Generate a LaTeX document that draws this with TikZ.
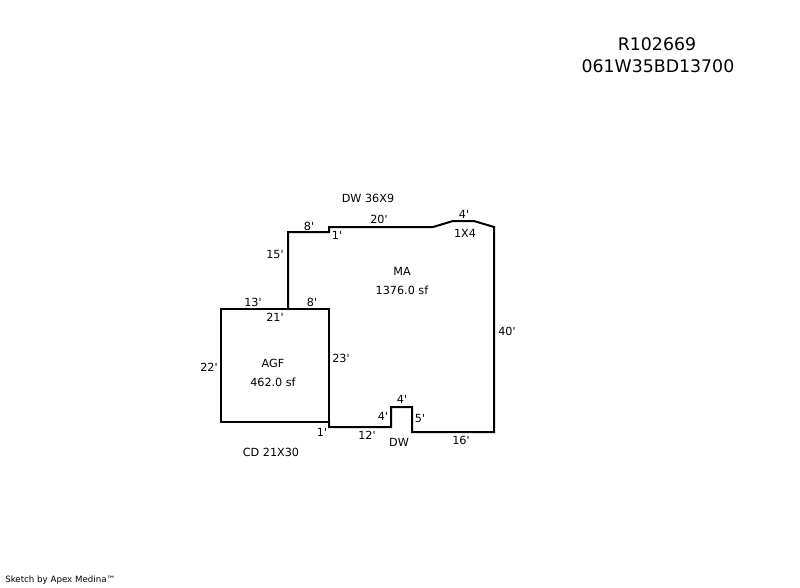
\documentclass[tikz,border=0pt]{standalone}
\usepackage{fontspec}
\newfontfamily\sketchfont{DejaVu Sans}
\usetikzlibrary{calc}
\tikzstyle{wall} = [
    line width = 1.5pt,
    line cap = rect,
    line join = miter,
    draw = black,
]
\tikzstyle{dim} = [
    font = \sketchfont\fontsize{8.4}{10}\selectfont,
    inner sep = 0pt,
    text = black,
]
\tikzstyle{title} = [
    font = \sketchfont\fontsize{13}{15}\selectfont,
    inner sep = 0pt,
    text = black,
]
\begin{document}
\begin{tikzpicture} [x = 0.75pt, y = -0.75pt]
    \useasboundingbox (0,0) rectangle (800,587);

    \draw[wall] (288,309) -- (288,232) -- (329,232) -- (329,227) -- (433,227) -- (453,221) -- (474,221) -- (494,227) -- (494,432) -- (412,432) -- (412,407) -- (391,407) -- (391,427) -- (329,427) -- (329,422);
    \draw[wall] (221,309) rectangle (329,422);

    \node (parcel) [title] at (657,44) {R102669};
    \node (account) [title] at (658,66) {061W35BD13700};

    \node (dwtop) [dim] at (368,198) {DW 36X9};
    \node (eighttop) [dim] at (309,226) {8'};
    \node (onetop) [dim] at (337,235) {1'};
    \node (fifteen) [dim] at (275,254) {15'};
    \node (twenty) [dim] at (379,219) {20'};
    \node (fourtop) [dim] at (464,214) {4'};
    \node (bay) [dim] at (465,233) {1X4};
    \node (ma) [dim] at (402,271) {MA};
    \node (maarea) [dim] at (402,290) {1376.0 sf};
    \node (thirteen) [dim] at (253,302) {13'};
    \node (eightmid) [dim] at (312,302) {8'};
    \node (twentyone) [dim] at (275,317) {21'};
    \node (forty) [dim] at (507,331) {40'};
    \node (twentythree) [dim] at (341,358) {23'};
    \node (agf) [dim] at (273,363) {AGF};
    \node (agfarea) [dim] at (273,382) {462.0 sf};
    \node (twentytwo) [dim] at (209,367) {22'};
    \node (fourbump) [dim] at (402,399) {4'};
    \node (fourleft) [dim] at (383,416) {4'};
    \node (five) [dim] at (420,418) {5'};
    \node (onelow) [dim] at (322,432) {1'};
    \node (twelve) [dim] at (367,435) {12'};
    \node (sixteen) [dim] at (461,440) {16'};
    \node (dwlow) [dim] at (399,442) {DW};
    \node (cd) [dim] at (271,452) {CD 21X30};

    \node (sketch) [dim, anchor = west, font = \sketchfont\fontsize{6.5}{8}\selectfont] at (5,580) {Sketch by Apex Medina™};
\end{tikzpicture}
\end{document}
